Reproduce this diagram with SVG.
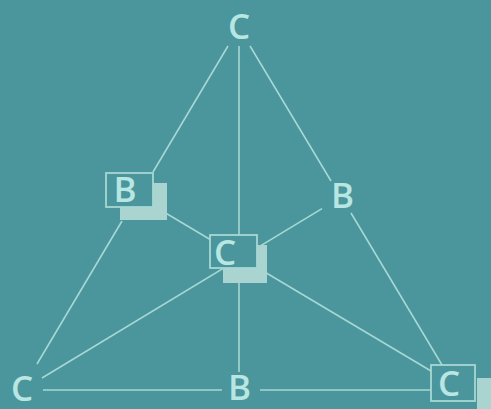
<svg xmlns="http://www.w3.org/2000/svg" width="491" height="409" viewBox="0 0 491 409">
<style>
.ln{stroke:#a6d8d4;stroke-width:1.6;fill:none}
.box{fill:#4b959c;stroke:#a6d8d4;stroke-width:1.8}
.sh{fill:#a9d4d0}
.t{font-family:"Open Sans","DejaVu Sans",sans-serif;font-size:35px;font-weight:600;fill:#b8e6e2;text-anchor:middle}
</style>
<rect width="491" height="409" fill="#4b959c"/>
<g id="connectors">
<line class="ln" x1="228" y1="46" x2="153" y2="172"/>
<line class="ln" x1="122" y1="221" x2="37" y2="364"/>
<line class="ln" x1="250" y1="46" x2="331" y2="181"/>
<line class="ln" x1="351" y1="213" x2="442" y2="365"/>
<line class="ln" x1="239" y1="46" x2="239" y2="372"/>
<line class="ln" x1="43" y1="390" x2="222" y2="390"/>
<line class="ln" x1="260" y1="390" x2="431" y2="390"/>
<line class="ln" x1="42" y1="378" x2="322" y2="208.6"/>
<line class="ln" x1="153" y1="205.5" x2="431" y2="371"/>
</g>
<g id="n-top"><text class="t" x="239" y="39">C</text></g>
<g id="n-bleft">
<rect class="sh" x="120" y="183" width="47" height="37"/>
<rect class="box" x="106" y="173" width="47" height="34"/>
<text class="t" x="125" y="202">B</text>
</g>
<g id="n-center">
<rect class="sh" x="223" y="245" width="44" height="38"/>
<rect class="box" x="210" y="235" width="47" height="33"/>
<text class="t" x="225" y="265">C</text>
</g>
<g id="n-bright"><text class="t" x="342.5" y="208">B</text></g>
<g id="n-bbottom"><text class="t" x="239.5" y="400">B</text></g>
<g id="n-cleft"><text class="t" x="22" y="401">C</text></g>
<g id="n-cright">
<rect class="sh" x="477" y="378" width="20" height="40"/>
<rect class="box" x="431" y="365" width="44" height="36"/>
<text class="t" x="449" y="396">C</text>
</g>
</svg>
